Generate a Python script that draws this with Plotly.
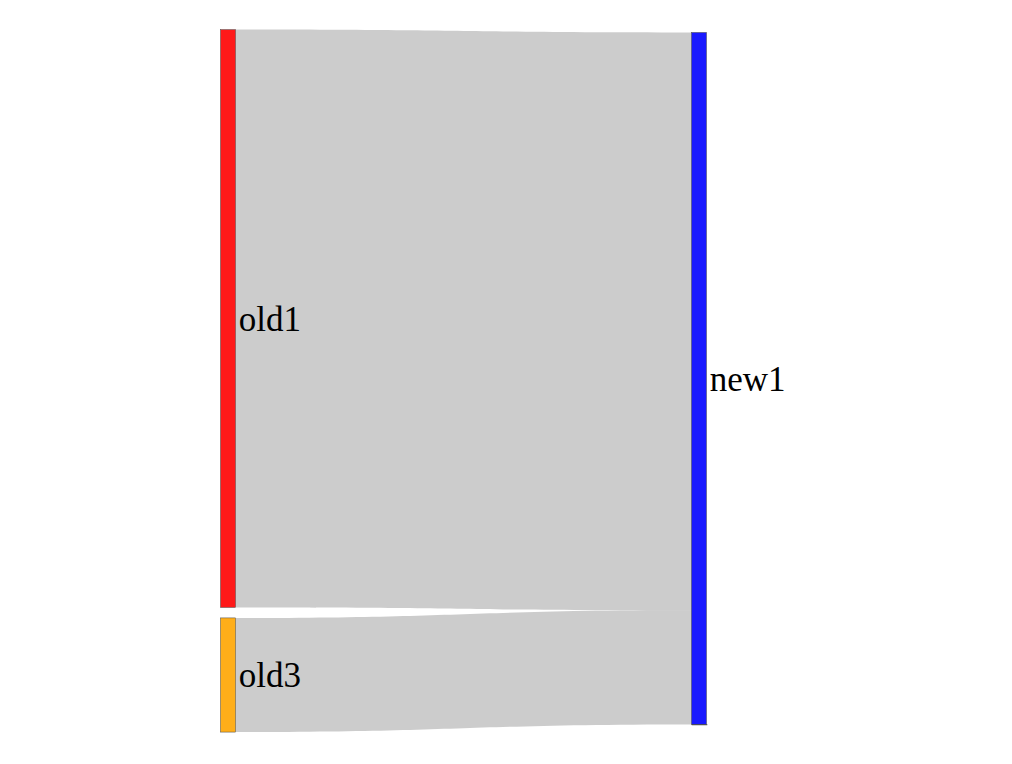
import plotly.graph_objects as go

# visible nodes + one hidden helper node (keeps the "new1" label on the right side)
labels = ["old1", "old3", "new1", ""]
node_colors = ["rgba(255,0,0,0.9)", "rgba(255,165,0,0.9)", "rgba(0,0,255,0.9)", "rgba(0,0,0,0)"]
node_x = [0.2253, 0.2253, 0.6907, 0.6912]
node_y = [0.411, 0.9188, 0.4964, 0.9893]
sources = [0, 1, 2]
targets = [2, 2, 3]
values = [577, 114, 0.01]
link_colors = ["rgba(0,0,0,0.2)", "rgba(0,0,0,0.2)", "rgba(0,0,0,0)"]

fig = go.Figure(go.Sankey(
    arrangement="fixed",
    domain=dict(x=[0, 1], y=[0, 1]),
    node=dict(label=labels, color=node_colors, thickness=15, pad=10,
              x=node_x, y=node_y,
              line=dict(color="#444", width=0.5)),
    link=dict(source=sources, target=targets, value=values, color=link_colors),
    textfont=dict(family="Liberation Serif", size=35, color="black", shadow="none"),
    hoverinfo="skip",
))
fig.update_layout(
    width=1012, height=764,
    margin=dict(l=0, r=0, t=30, b=32),
    font=dict(family="Liberation Serif", size=35, color="black"),
    paper_bgcolor="white",
)
fig.write_html("out.html")
